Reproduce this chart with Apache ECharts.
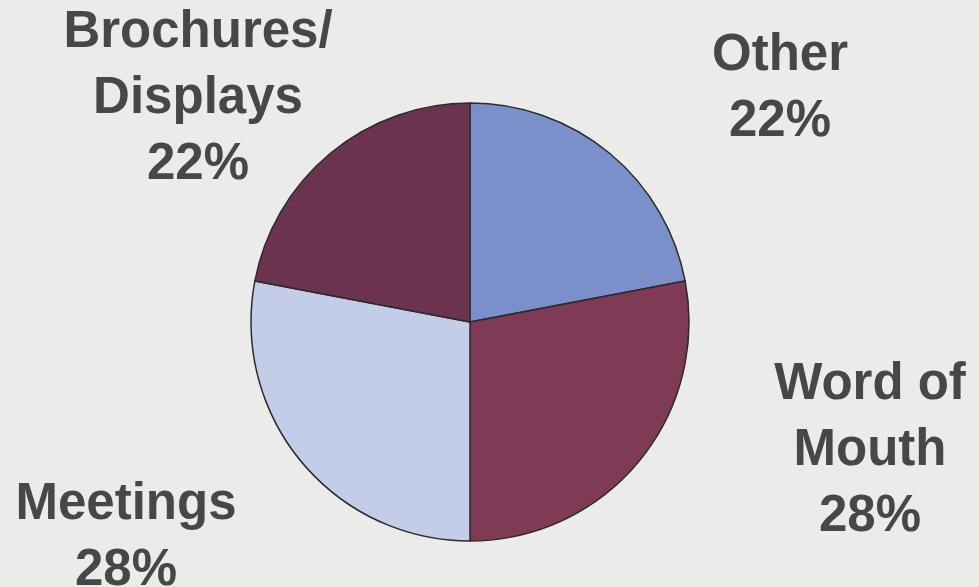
<!DOCTYPE html>
<html>
<head>
<meta charset="utf-8">
<style>
  html, body { margin: 0; padding: 0; background: #ebebea; }
  #chart { width: 979px; height: 587px; }
</style>
<script src="https://cdn.jsdelivr.net/npm/echarts@6/dist/echarts.min.js"></script>
</head>
<body>
<div id="chart"></div>
<script>
// Share of responses by source, clockwise from 12 o'clock
const categories = ['Other', 'Word of\nMouth', 'Meetings', 'Brochures/\nDisplays'];
const shares = [22, 28, 28, 22];
const sliceColors = ['#7b90cb', '#7f3a56', '#c3cde8', '#6c3351'];

// Where each slice's label block sits (centre of the text block)
const labelCentres = [[780, 89], [870, 451], [126, 538], [198, 99]];

const chart = echarts.init(document.getElementById('chart'), null, { renderer: 'canvas' });

chart.setOption({
  backgroundColor: '#ebebea',
  animation: false,
  series: [{
    type: 'pie',
    center: [470, 322],
    radius: [0, 219],
    startAngle: 90,
    clockwise: true,
    silent: true,
    data: categories.map((name, i) => ({
      name: name,
      value: shares[i],
      itemStyle: { color: sliceColors[i] }
    })),
    itemStyle: { borderColor: '#2b2b2b', borderWidth: 1.5 },
    label: {
      show: true,
      position: 'outside',
      formatter: p => p.name + '\n' + p.value + '%',
      fontFamily: '"Liberation Sans", Arial, sans-serif',
      fontWeight: 'bold',
      fontSize: 51,
      lineHeight: 66,
      color: '#474747',
      align: 'center'
    },
    labelLine: { show: false },
    labelLayout: params => ({
      x: labelCentres[params.dataIndex][0],
      y: labelCentres[params.dataIndex][1],
      align: 'center',
      verticalAlign: 'middle'
    })
  }]
});
</script>
</body>
</html>
